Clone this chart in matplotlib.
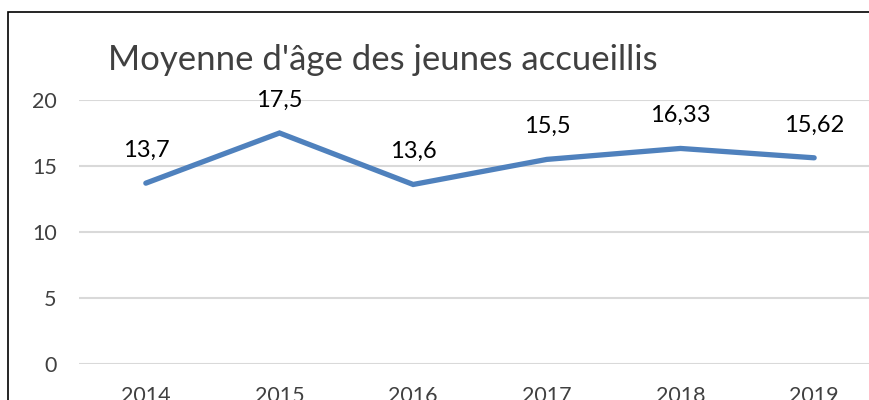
import matplotlib
matplotlib.use("Agg")
import matplotlib.pyplot as plt
from matplotlib.patches import Rectangle

years = ["2014", "2015", "2016", "2017", "2018", "2019"]
ages = [13.7, 17.5, 13.6, 15.5, 16.33, 15.62]
age_labels = ["13,7", "17,5", "13,6", "15,5", "16,33", "15,62"]
y_ticks = [0, 5, 10, 15, 20]

LINE_COLOR = "#4F81BD"
GREY_TEXT = "#404040"

plt.rcParams["font.family"] = ["Lato", "DejaVu Sans"]

W, H = 870, 400
fig = plt.figure(figsize=(W / 100, H / 100), dpi=100)

# chart frame (only top and left edges are inside the crop)
fig.add_artist(Rectangle((8 / W, -0.2), 1.2, (H - 12) / H + 0.2,
                         transform=fig.transFigure, fill=False,
                         edgecolor="black", linewidth=1.2))

# plot area: x from 79px to 881px (runs past the crop), y from 100px to 364px
ax = fig.add_axes([79 / W, (H - 364) / H, 802 / W, 264 / H])
x = list(range(len(years)))
ax.plot(x, ages, color=LINE_COLOR, linewidth=3.8, solid_capstyle="round",
        solid_joinstyle="miter", zorder=3)

for xi, yi, lab in zip(x, ages, age_labels):
    ax.annotate(lab, (xi, yi), xytext=(0, 16), textcoords="offset points",
                ha="center", va="bottom", fontsize=17, color="black")

ax.set_xlim(-0.5, len(years) - 0.5)
ax.set_ylim(0, 20)
ax.set_xticks(x)
ax.set_xticklabels(years)
ax.set_yticks(y_ticks)
ax.tick_params(axis="both", length=0, labelsize=15.5, labelcolor=GREY_TEXT)
ax.tick_params(axis="y", pad=16)
ax.tick_params(axis="x", pad=16)
ax.grid(axis="y", color="#D9D9D9", linewidth=1.5)
ax.set_axisbelow(True)
for s in ax.spines.values():
    s.set_visible(False)

fig.text(108 / W, 1 - 70 / H, "Moyenne d'âge des jeunes accueillis",
         ha="left", va="baseline", fontsize=25, color=GREY_TEXT)

fig.savefig("out.png", dpi=100)
